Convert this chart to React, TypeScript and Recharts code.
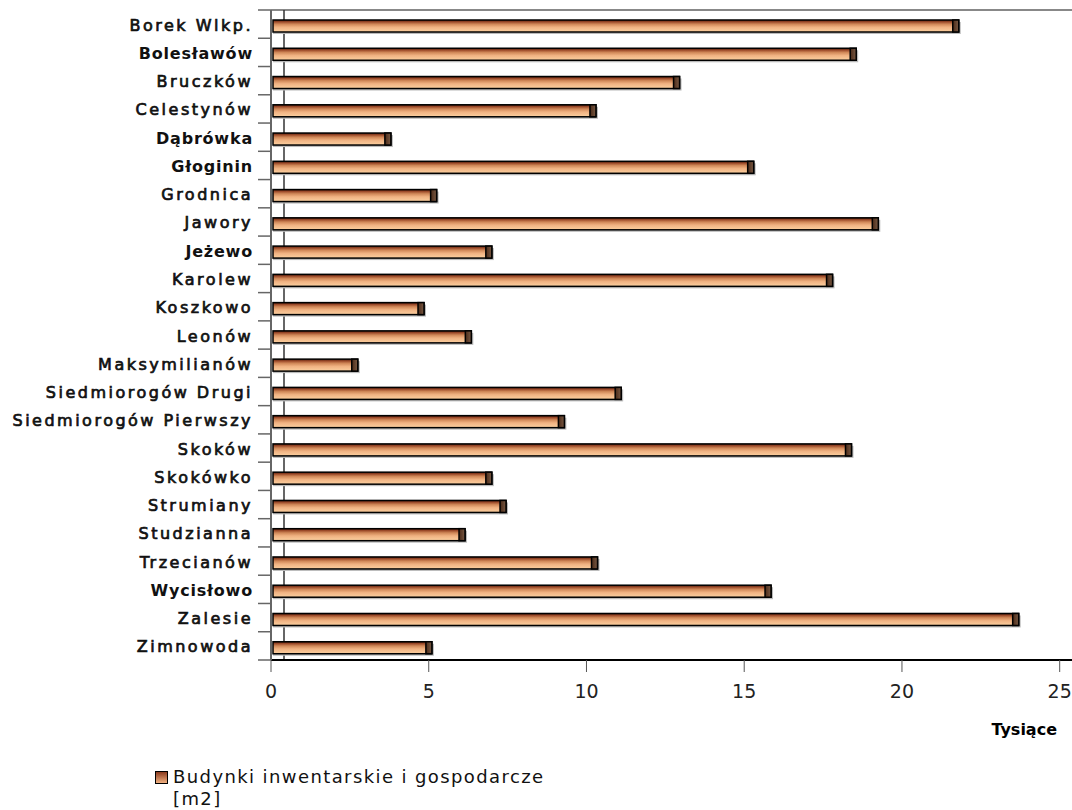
import React from 'react'
import { BarChart, Bar, XAxis, YAxis, CartesianGrid } from 'recharts'

const FONT = "'DejaVu Sans', Verdana, sans-serif"

const categories = [
  'Borek Wlkp.', 'Bolesławów', 'Bruczków', 'Celestynów', 'Dąbrówka', 'Głoginin',
  'Grodnica', 'Jawory', 'Jeżewo', 'Karolew', 'Koszkowo', 'Leonów', 'Maksymilianów',
  'Siedmiorogów Drugi', 'Siedmiorogów Pierwszy', 'Skoków', 'Skokówko', 'Strumiany',
  'Studzianna', 'Trzecianów', 'Wycisłowo', 'Zalesie', 'Zimnowoda',
]

// tysiące m2
const values = [
  21.8, 18.55, 12.95, 10.3, 3.8, 15.3,
  5.25, 19.25, 7.0, 17.8, 4.85, 6.35, 2.75,
  11.1, 9.3, 18.4, 7.0, 7.45,
  6.15, 10.35, 15.85, 23.7, 5.1,
]

const boldLabels = ['Bolesławów', 'Dąbrówka', 'Głoginin', 'Jeżewo', 'Wycisłowo']
const xTicks = [0, 5, 10, 15, 20, 25]
const seriesName = 'Budynki inwentarskie i gospodarcze [m2]'

const data = categories.map((name, i) => ({ name, value: values[i] }))

const TOP = 10
const PLOT_H = 650
const BAND = PLOT_H / categories.length

function CategoryTick(props: any) {
  const { y, payload, index } = props
  const half = BAND / 2
  const bold = boldLabels.includes(payload.value)
  return (
    <g>
      <line x1={258} x2={271} y1={y - half} y2={y - half} stroke="#666" strokeWidth={1.5} />
      {index === categories.length - 1 && (
        <line x1={258} x2={271} y1={y + half} y2={y + half} stroke="#666" strokeWidth={1.5} />
      )}
      <text
        x={253}
        y={y + 6.5}
        textAnchor="end"
        fontFamily={FONT}
        fontSize={16}
        fontWeight={bold ? 'bold' : 'normal'}
        letterSpacing={bold ? 0.8 : 2.5}
        fill="#111"
        stroke={bold ? 'none' : '#111'}
        strokeWidth={bold ? 0 : 0.7}
      >
        {payload.value}
      </text>
    </g>
  )
}

function GlassBar(props: any) {
  const { x, y, width, height, index } = props
  const cap = 6
  const yy = y + 2
  return (
    <g>
      <defs>
        <linearGradient id={`face-${index}`} x1="0" y1="0" x2="0" y2="1">
          <stop offset="0" stopColor="#4a1808" />
          <stop offset="0.15" stopColor="#9a4828" />
          <stop offset="0.35" stopColor="#d08858" />
          <stop offset="0.6" stopColor="#f0b282" />
          <stop offset="1" stopColor="#fbd0a0" />
        </linearGradient>
        <linearGradient id={`cap-${index}`} x1="0" y1="0" x2="1" y2="0">
          <stop offset="0" stopColor="#4a2a18" />
          <stop offset="1" stopColor="#7a5a44" />
        </linearGradient>
      </defs>
      <rect x={x + 2} y={yy + 2} width={width} height={height} fill="#bbb" />
      <rect x={x + 2} y={yy} width={width - 2} height={height} fill={`url(#face-${index})`} stroke="#000" strokeWidth={1.5} />
      <rect x={x + width - cap} y={yy} width={cap} height={height} fill={`url(#cap-${index})`} stroke="#000" strokeWidth={1.5} />
    </g>
  )
}

export default function App() {
  return (
    <div style={{ position: 'absolute', left: 0, top: 0, width: 1072, height: 810, background: '#fff' }}>
      <BarChart
        width={1072}
        height={810}
        data={data}
        layout="vertical"
        margin={{ top: TOP, right: 0, bottom: 110, left: 0 }}
        barCategoryGap={0}
      >
        <CartesianGrid horizontal={true} vertical={false} horizontalPoints={[TOP]} stroke="#888" strokeWidth={2} />
        <CartesianGrid horizontal={false} vertical={true} verticalPoints={[284]} stroke="#333" strokeWidth={1.5} />
        <XAxis
          type="number"
          domain={[0, 25.39]}
          ticks={xTicks}
          allowDataOverflow
          height={40}
          tickSize={12}
          tickMargin={13}
          tickLine={{ stroke: '#555' }}
          axisLine={{ stroke: '#000', strokeWidth: 2 }}
          tick={{ fontSize: 19, fill: '#222', fontFamily: FONT }}
          label={{
            content: () => (
              <text x={1057} y={735} textAnchor="end" fontFamily={FONT} fontSize={16} fontWeight="bold" fill="#000">
                Tysiące
              </text>
            ),
          }}
        />
        <YAxis
          type="category"
          dataKey="name"
          width={271}
          interval={0}
          tickLine={false}
          axisLine={{ stroke: '#666', strokeWidth: 2 }}
          tick={<CategoryTick />}
        />
        <Bar dataKey="value" name={seriesName} barSize={12} shape={<GlassBar />} isAnimationActive={false} />
      </BarChart>
      <div
        style={{
          position: 'absolute',
          left: 155,
          top: 766,
          display: 'flex',
          alignItems: 'flex-start',
          fontFamily: FONT,
          fontSize: 18,
          letterSpacing: 1.4,
          lineHeight: '22px',
          color: '#111',
        }}
      >
        <span
          style={{
            display: 'inline-block',
            flex: 'none',
            width: 11,
            height: 11,
            border: '1px solid #000',
            background: 'linear-gradient(#8a3a1e, #f0b080)',
            marginRight: 5,
            marginTop: 5,
          }}
        />
        <span>
          Budynki inwentarskie i gospodarcze
          <br />
          [m2]
        </span>
      </div>
    </div>
  )
}
